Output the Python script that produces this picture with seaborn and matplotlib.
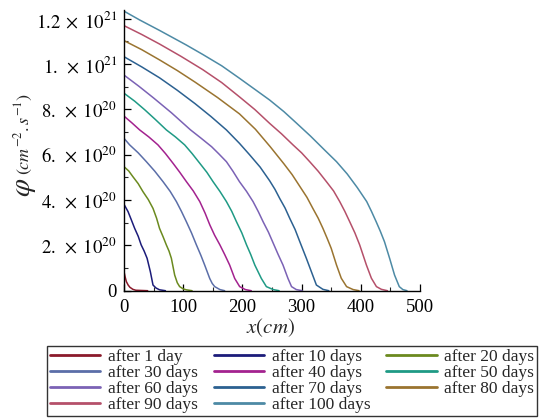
import numpy as np
import pandas as pd
import matplotlib
matplotlib.use("Agg")
import matplotlib.pyplot as plt
from matplotlib.ticker import MultipleLocator
import seaborn as sns

# ---- data (phi in units of 1e20 cm^-2 s^-1) ----
labels = ["after 1 day", "after 10 days", "after 20 days", "after 30 days",
          "after 40 days", "after 50 days", "after 60 days", "after 70 days",
          "after 80 days", "after 90 days", "after 100 days"]

x_1 = [0, 2, 4, 7, 10, 15, 20, 40]
y_1 = [0.84, 0.6, 0.4, 0.25, 0.15, 0.06, 0.02, 0.0]
x_10 = [0, 6.8, 12, 18, 24, 29, 34, 39, 44.5, 49, 54, 60, 70]
y_10 = [3.81, 3.49, 3.15, 2.75, 2.4, 2.02, 1.75, 1.43, 0.84, 0.25, 0.12, 0.04, 0]
x_20 = [0, 8, 15, 24, 32, 41, 49, 55, 60, 66, 71.5, 76, 80, 85.6, 90, 94, 100, 105, 115]
y_20 = [5.47, 5.28, 5.03, 4.72, 4.37, 4.02, 3.63, 3.2, 2.75, 2.38, 2.02, 1.75, 1.43, 0.69, 0.35, 0.18, 0.08, 0.04, 0]
x_30 = [0, 9.6, 24, 37.8, 52, 65.9, 78, 88.5, 97, 105.4, 114, 122.3, 130, 136.3, 144.8, 149, 153.2, 162, 170]
y_30 = [6.72, 6.43, 6.08, 5.69, 5.27, 4.81, 4.38, 3.93, 3.5, 3.04, 2.55, 2.02, 1.55, 1.13, 0.54, 0.32, 0.18, 0.05, 0]
x_40 = [0, 13, 26.5, 42, 57.4, 70, 82.8, 94, 105.4, 117, 128, 137, 145, 153, 162, 170, 178.5, 187, 195.4, 205, 215]
y_40 = [7.7, 7.41, 7.09, 6.78, 6.43, 6.05, 5.62, 5.23, 4.81, 4.4, 3.93, 3.42, 2.9, 2.45, 2.02, 1.6, 1.13, 0.54, 0.18, 0.05, 0]
x_50 = [0, 18, 35, 53, 71.6, 87, 102.5, 115, 128, 140, 150.4, 162, 173, 182, 190, 199, 207, 214, 221, 232, 240.5, 252, 262]
y_50 = [8.71, 8.36, 7.98, 7.55, 7.09, 6.78, 6.43, 6.05, 5.62, 5.22, 4.81, 4.38, 3.93, 3.5, 3.04, 2.55, 2.02, 1.6, 1.13, 0.54, 0.18, 0.05, 0]
x_60 = [0, 25, 50, 80, 112, 130, 148, 160, 173, 184, 195, 207, 218, 227, 235, 244, 252, 260, 268.6, 277, 283, 291, 301]
y_60 = [9.51, 9.02, 8.5, 7.85, 7.1, 6.73, 6.35, 6.04, 5.69, 5.27, 4.81, 4.38, 3.93, 3.48, 3.04, 2.58, 2.1, 1.62, 1.13, 0.54, 0.18, 0.05, 0]
x_70 = [0, 30, 60, 90, 120, 147, 173, 195, 212, 230, 246, 255, 263, 272, 280, 289, 297, 308, 316.5, 325, 336, 346]
y_70 = [10.32, 9.87, 9.39, 8.84, 8.25, 7.68, 7.09, 6.5, 6.0, 5.45, 4.85, 4.47, 4.07, 3.65, 3.19, 2.7, 2.16, 1.43, 0.84, 0.25, 0.06, 0]
x_80 = [0, 30, 60, 90, 120, 158, 195, 222, 247, 270, 284, 297, 309, 319, 328, 336, 343, 350, 359, 367, 376, 387, 397]
y_80 = [11.03, 10.63, 10.18, 9.71, 9.2, 8.52, 7.8, 7.12, 6.35, 5.6, 5.12, 4.6, 4.12, 3.63, 3.2, 2.75, 2.32, 1.87, 1.13, 0.55, 0.18, 0.05, 0]
x_90 = [0, 30, 60, 96, 133, 165, 195, 221, 246, 266, 285.5, 300, 313.7, 328, 341.9, 354, 364.4, 373, 381.3, 390, 398.1, 409.5, 417.9, 426.4, 434.8, 445]
y_90 = [11.69, 11.3, 10.88, 10.34, 9.75, 9.18, 8.55, 7.99, 7.38, 6.92, 6.43, 6.08, 5.69, 5.27, 4.81, 4.4, 3.93, 3.5, 3.04, 2.55, 2.02, 1.13, 0.55, 0.18, 0.06, 0]
x_100 = [0, 26.5, 60, 105, 133, 165, 195, 220, 246, 270, 291, 315, 339, 359, 377, 394,
         410, 418, 426, 433, 440, 449, 457, 465, 471, 478]
y_100 = [12.33, 11.94, 11.48, 10.84, 10.42, 9.92, 9.37, 8.9, 8.41, 7.9, 7.4, 6.82, 6.2,
         5.69, 5.15, 4.55, 3.93, 3.5, 3.04, 2.62, 2.16, 1.4, 0.69, 0.18, 0.05, 0]

xs = [x_1, x_10, x_20, x_30, x_40, x_50, x_60, x_70, x_80, x_90, x_100]
ys = [y_1, y_10, y_20, y_30, y_40, y_50, y_60, y_70, y_80, y_90, y_100]

colors = ["#8b1a2b", "#1c1c7a", "#6b8a1f", "#5b6ea8", "#a3228f", "#1f9a85",
          "#7b62b5", "#2c6191", "#9a7430", "#b5506a", "#4d8aa5"]

ytick_vals = [0, 2e20, 4e20, 6e20, 8e20, 1e21, 1.2e21]
ytick_labels = ["0", r"$2.\;\times\;10^{20}$", r"$4.\;\times\;10^{20}$", r"$6.\;\times\;10^{20}$",
                r"$8.\;\times\;10^{20}$", r"$1.\;\times\;10^{21}$", r"$1.2\;\times\;10^{21}$"]
xtick_vals = [0, 100, 200, 300, 400, 500]

rows = []
for lab, xx, yy in zip(labels, xs, ys):
    for a, b in zip(xx, yy):
        rows.append((lab, a, b * 1e20))
df = pd.DataFrame(rows, columns=["series", "x", "phi"])

sns.set_style("white")
plt.rcParams["font.family"] = ["Liberation Serif", "DejaVu Serif"]
plt.rcParams["mathtext.fontset"] = "stix"

fig = plt.figure(figsize=(5.39, 4.19), dpi=100)
ax = fig.add_axes([124 / 539, 1 - 290.7 / 419, (420 - 124) / 539, (290.7 - 10) / 419])

sns.lineplot(data=df, x="x", y="phi", hue="series", hue_order=labels,
             palette=dict(zip(labels, colors)), sort=False, estimator=None,
             linewidth=1.1, ax=ax, legend=True)

handles, labs = ax.get_legend_handles_labels()
ax.get_legend().remove()

ax.set_xlim(0, 500)
ax.set_ylim(0, 1.238e21)
ax.set_xticks(xtick_vals)
ax.set_xticklabels([str(v) for v in xtick_vals])
ax.set_yticks(ytick_vals)
ax.set_yticklabels(ytick_labels)
ax.xaxis.set_minor_locator(MultipleLocator(50))
ax.yaxis.set_minor_locator(MultipleLocator(1e20))
ax.tick_params(which="major", direction="in", length=5, width=0.9, labelsize=13.5,
               colors="black", bottom=True, left=True)
ax.tick_params(axis="y", which="major", pad=5)
ax.tick_params(axis="x", which="major", pad=6)
ax.tick_params(which="minor", direction="in", length=3, width=0.8, bottom=True, left=True)
for s in ["top", "right"]:
    ax.spines[s].set_visible(False)
for s in ["left", "bottom"]:
    ax.spines[s].set_color("black")
    ax.spines[s].set_linewidth(1.0)
ax.set_xlabel("")
ax.set_ylabel("")

fig.text(270 / 539, 1 - 328 / 419, r"$x(cm)$", ha="center", va="center", fontsize=15)
fig.text(25 / 539, 1 - 187 / 419, r"$\varphi$", ha="center", va="center",
         fontsize=21, rotation=90)
fig.text(24 / 539, 1 - 134 / 419, r"$(cm^{-2}.s^{-1})$", ha="center", va="center",
         fontsize=13, rotation=90)

# legend, row-major order across 3 columns
order = [0, 3, 6, 9, 1, 4, 7, 10, 2, 5, 8]
leg_handles = []
for i in order:
    h = handles[i]
    h.set_linewidth(2.0)
    leg_handles.append(h)
leg = fig.legend(leg_handles, [labs[i] for i in order], ncol=3,
                 loc="lower left", bbox_to_anchor=(47 / 539, 3 / 419, 490 / 539, 75 / 419),
                 mode="expand", fontsize=12.5, frameon=True, fancybox=False,
                 edgecolor="black", handlelength=2.9, handletextpad=0.45,
                 labelspacing=0.0, borderpad=0.15, columnspacing=0.6, borderaxespad=0)
leg.get_frame().set_linewidth(1.0)

fig.savefig("out.png", dpi=100)
